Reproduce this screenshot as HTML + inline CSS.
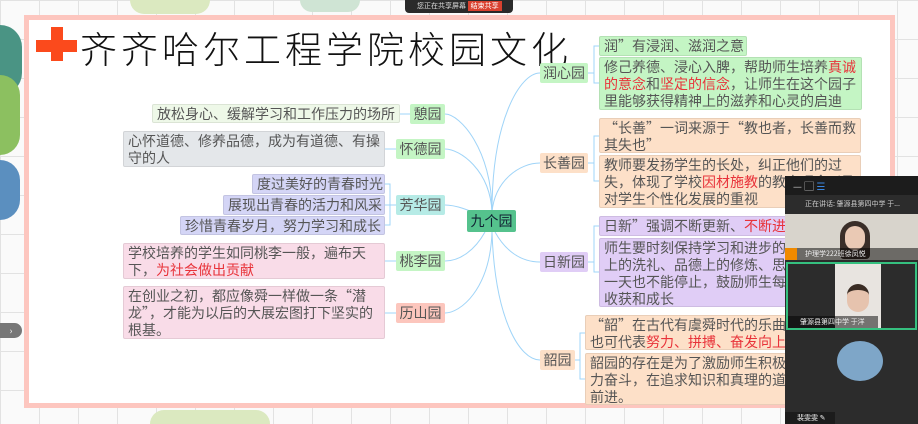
<!DOCTYPE html>
<html><head><meta charset="utf-8"><style>
*{margin:0;padding:0;box-sizing:border-box}
body{width:918px;height:424px;overflow:hidden;background:#fafafa;position:relative;font-family:"Noto Sans CJK SC","Liberation Sans",sans-serif}
.a{position:absolute}
.t{position:absolute;font-size:14px;line-height:17px;color:#555;padding:1px 4px;border:1px solid rgba(0,0,0,.08);border-radius:2px;overflow:hidden;white-space:nowrap}
.n{position:absolute;font-size:14px;line-height:20px;color:#555;text-align:center;border-radius:2px}
.r{color:#e8333a}
.grid{background-image:linear-gradient(#e2e2e2 1px,transparent 1px),linear-gradient(90deg,#e2e2e2 1px,transparent 1px);background-size:39px 39px}
</style></head><body>
<div class="a grid" style="left:0;top:0;width:918px;height:424px"></div>
<div class="a" style="left:0;top:25px;width:22px;height:70px;background:#4a9484;border-radius:0 30px 30px 0"></div>
<div class="a" style="left:0;top:75px;width:20px;height:80px;background:#8cc060;border-radius:0 30px 30px 0"></div>
<div class="a" style="left:0;top:160px;width:20px;height:60px;background:#5b8fbf;border-radius:0 30px 30px 0"></div>
<div class="a" style="left:130px;top:0;width:80px;height:14px;background:#dbe9c0;border-radius:0 0 40px 40px"></div>
<div class="a" style="left:300px;top:0;width:60px;height:12px;background:#cfe4d4;border-radius:0 0 40px 40px"></div>
<div class="a" style="left:150px;top:410px;width:120px;height:14px;background:#dbe9c0;border-radius:40px 40px 0 0"></div>
<div class="a" style="left:0;top:323px;width:22px;height:15px;background:#777;border-radius:0 8px 8px 0;color:#fff;font-size:9px;line-height:15px;text-align:center">›</div>
<div class="a" style="left:24px;top:15px;width:871px;height:393px;background:#fff;border:5px solid #fdc6bf"></div>
<div class="a" style="left:405px;top:0;width:108px;height:13px;background:#2a2a2a;border-radius:0 0 4px 4px;font-size:7px;color:#ddd;line-height:13px;padding-left:12px">您正在共享屏幕 <span style="background:#d9412f;color:#fff;padding:0 3px">结束共享</span></div>
<div class="a" style="left:36px;top:40px;width:41px;height:12px;background:#fb4a1c"></div>
<div class="a" style="left:51px;top:27px;width:12px;height:34px;background:#fb4a1c"></div>
<div class="a" style="left:80px;top:26px;font-size:37px;line-height:42px;letter-spacing:4px;color:#111;font-family:'Noto Sans CJK SC',sans-serif;font-weight:300">齐齐哈尔工程学院校园文化</div>
<svg class="a" style="left:0;top:0" width="918" height="424" fill="none" stroke="#9fd4f8" stroke-width="1">
<path d="M492 212 C492 150 460 114 445 114"/>
<path d="M492 212 C490 170 460 149 445 149"/>
<path d="M480 216 C470 210 455 205 445 205"/>
<path d="M485 232 C475 250 460 261 445 261"/>
<path d="M492 232 C490 290 460 313 445 313"/>
<path d="M492 212 C492 120 520 73 540 73"/>
<path d="M492 212 C495 180 520 163 540 163"/>
<path d="M495 232 C505 250 520 262 540 262"/>
<path d="M492 232 C495 320 520 360 540 360"/>
<path d="M400 114H410M385 149H396M385 184H390V225H385M385 205H396M385 261H396M385 313H396"/>
<path d="M588 73H594M599 46H594V83H599M588 163H594M599 136H594V181H599M588 262H594M599 226H594V272H599M575 360H580M585 333H580V379H585"/>
</svg>
<div class="t" style="left:152px;top:104px;width:248px;height:19px;background:#eef8e8">放松身心、缓解学习和工作压力的场所</div>
<div class="n" style="left:410px;top:104px;width:35px;background:#c4f5c4">憩园</div>
<div class="t" style="left:123px;top:131px;width:262px;height:36px;background:#e4e7ea;white-space:normal">心怀道德、修养品德，成为有道德、有操守的人</div>
<div class="n" style="left:396px;top:139px;width:49px;background:#c4f5c4">怀德园</div>
<div class="t" style="left:252px;top:174px;width:133px;height:20px;background:#d4d5f6">度过美好的青春时光</div>
<div class="t" style="left:223px;top:195px;width:162px;height:20px;background:#d4d5f6">展现出青春的活力和风采</div>
<div class="t" style="left:180px;top:216px;width:205px;height:19px;background:#d4d5f6">珍惜青春岁月，努力学习和成长</div>
<div class="n" style="left:396px;top:195px;width:49px;background:#b6ebe6">芳华园</div>
<div class="t" style="left:123px;top:243px;width:262px;height:36px;background:#f9dce8;white-space:normal">学校培养的学生如同桃李一般，遍布天下，<span class="r">为社会做出贡献</span></div>
<div class="n" style="left:396px;top:251px;width:49px;background:#c4f5c4">桃李园</div>
<div class="t" style="left:123px;top:286px;width:262px;height:53px;background:#f9dce8;white-space:normal">在创业之初，都应像舜一样做一条“潜龙”，才能为以后的大展宏图打下坚实的根基。</div>
<div class="n" style="left:396px;top:303px;width:49px;background:#fcc6bd">历山园</div>
<div class="n" style="left:467px;top:210px;width:49px;line-height:22px;background:#55c28d;color:#123">九个园</div>
<div class="n" style="left:540px;top:63px;width:48px;background:#c4f5c4">润心园</div>
<div class="t" style="left:599px;top:36px;width:148px;height:20px;background:#c4f5c4">润”有浸润、滋润之意</div>
<div class="t" style="left:599px;top:57px;width:263px;height:53px;background:#c4f5c4;white-space:normal">修己养德、浸心入脾，帮助师生培养<span class="r">真诚的意念</span>和<span class="r">坚定的信念</span>，让师生在这个园子里能够获得精神上的滋养和心灵的启迪</div>
<div class="n" style="left:540px;top:153px;width:48px;background:#fde0c8">长善园</div>
<div class="t" style="left:599px;top:118px;width:262px;height:35px;background:#fde0c8;white-space:normal">“长善”一词来源于“教也者，长善而救其失也”</div>
<div class="t" style="left:599px;top:155px;width:262px;height:53px;background:#fde0c8;white-space:normal">教师要发扬学生的长处，纠正他们的过失，体现了学校<span class="r">因材施教</span>的教育理念以及对学生个性化发展的重视</div>
<div class="n" style="left:540px;top:252px;width:48px;background:#e0cdf6">日新园</div>
<div class="t" style="left:599px;top:216px;width:262px;height:20px;background:#e0cdf6">日新”强调不断更新、<span class="r">不断进步</span></div>
<div class="t" style="left:599px;top:238px;width:262px;height:69px;background:#e0cdf6;white-space:normal">师生要时刻保持学习和进步的状态，知识上的洗礼、品德上的修炼、思想上的提升一天也不能停止，鼓励师生每天都有新的收获和成长</div>
<div class="n" style="left:540px;top:350px;width:35px;background:#fde0c8">韶园</div>
<div class="t" style="left:585px;top:315px;width:276px;height:35px;background:#fde0c8;white-space:normal">“韶”在古代有虞舜时代的乐曲之意，<br>也可代表<span class="r">努力、拼搏、奋发向上</span></div>
<div class="t" style="left:585px;top:353px;width:276px;height:52px;background:#fde0c8;white-space:normal">韶园的存在是为了激励师生积极进取、努<br>力奋斗，在追求知识和真理的道路上不断<br>前进。</div>
<div class="a" style="left:785px;top:176px;width:133px;height:248px;background:#2c2c2c">
<div class="a" style="left:0;top:0;width:133px;height:19px;background:#1c1c1c;color:#ccc;font-size:10px;line-height:19px;padding-left:8px">— ▢ <span style="color:#3a86e0">☰</span></div>
<div class="a" style="left:0;top:19px;width:133px;height:19px;color:#ccc;font-size:7px;line-height:19px;padding-left:20px;white-space:nowrap">正在讲话: 肇源县第四中学 于...</div>
<div class="a" style="left:0;top:38px;width:133px;height:46px;background:#d8d4cc"></div>
<div class="a" style="left:55px;top:45px;width:30px;height:38px;background:#3a2e28;border-radius:15px 15px 4px 4px"></div>
<div class="a" style="left:60px;top:50px;width:20px;height:24px;background:#eac9b4;border-radius:10px"></div>
<div class="a" style="left:0;top:72px;width:133px;height:12px;background:rgba(0,0,0,.5);color:#eee;font-size:7px;line-height:12px;padding-left:20px;white-space:nowrap">护理学222班徐凤悦</div>
<div class="a" style="left:0;top:72px;width:12px;height:12px;background:#f08a00"></div>
<div class="a" style="left:1px;top:86px;width:131px;height:68px;border:2px solid #35c07f;background:#2c2c2c"></div>
<div class="a" style="left:50px;top:88px;width:46px;height:64px;background:#e8e4e0"></div>
<div class="a" style="left:62px;top:108px;width:22px;height:28px;background:#e6c3ae;border-radius:11px;border-top:6px solid #3a2c24"></div>
<div class="a" style="left:3px;top:140px;width:90px;height:12px;background:rgba(0,0,0,.5);color:#eee;font-size:7px;line-height:12px;padding-left:12px;white-space:nowrap">肇源县第四中学 于洋</div>
<div class="a" style="left:52px;top:165px;width:46px;height:40px;background:#7ea6c8;border-radius:50%"></div>
<div class="a" style="left:0;top:236px;width:50px;height:12px;background:#1c1c1c;color:#eee;font-size:7px;line-height:12px;padding-left:12px">裴雯雯 ✎</div>
</div>
</body></html>
